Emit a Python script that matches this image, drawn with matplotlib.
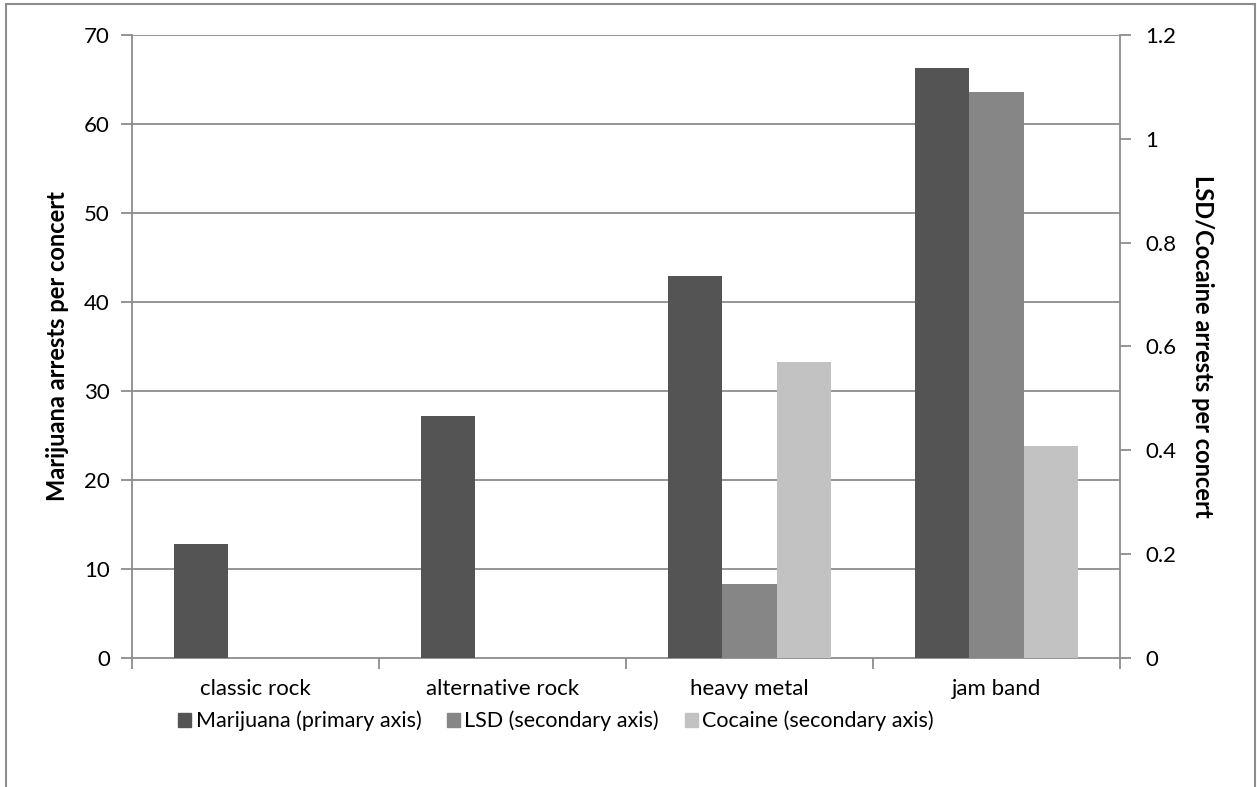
import matplotlib
matplotlib.use("Agg")
import matplotlib.pyplot as plt
from matplotlib.patches import Rectangle
import numpy as np

categories = ["classic rock", "alternative rock", "heavy metal", "jam band"]
marijuana = [12.8, 27.2, 42.9, 66.3]
lsd = [0.0, 0.0, 0.143, 1.09]
cocaine = [0.0, 0.0, 0.571, 0.409]
primary_ticks = [0, 10, 20, 30, 40, 50, 60, 70]
secondary_ticks = [0, 0.2, 0.4, 0.6, 0.8, 1, 1.2]
secondary_labels = ["0", "0.2", "0.4", "0.6", "0.8", "1", "1.2"]
series_names = ["Marijuana (primary axis)", "LSD (secondary axis)", "Cocaine (secondary axis)"]

plt.rcParams['font.family'] = ['Lato', 'DejaVu Sans']

W, H = 1257, 787
fig = plt.figure(figsize=(W / 100, H / 100), dpi=100)
fig.patch.set_facecolor("white")

# chart area border
border = Rectangle((6 / W, -0.01), (1255 - 6) / W, (H - 4) / H + 0.01, transform=fig.transFigure,
                   fill=False, edgecolor="#8c8c8c", linewidth=1.5)
fig.patches.append(border)

left, right, top, bottom = 132, 1120, 35, 658
ax = fig.add_axes([left / W, (H - bottom) / H, (right - left) / W, (bottom - top) / H])
ax2 = ax.twinx()

c_mar, c_lsd, c_coc = "#545454", "#868686", "#c2c2c2"
grid_c = "#8c8c8c"
x = np.arange(len(categories))
bw = 0.22

ax.bar(x - bw, marijuana, width=bw, color=c_mar, zorder=3)
ax2.bar(x, lsd, width=bw, color=c_lsd, zorder=3)
ax2.bar(x + bw, cocaine, width=bw, color=c_coc, zorder=3)

ax.set_xlim(-0.5, len(categories) - 0.5)
ax.set_ylim(0, 70)
ax2.set_ylim(0, 1.2)
ax.set_yticks(primary_ticks)
ax2.set_yticks(secondary_ticks)
ax2.set_yticklabels(secondary_labels)

for y in primary_ticks[1:]:
    ax.axhline(y, color=grid_c, linewidth=1.3, zorder=1)

for a in (ax, ax2):
    for s in a.spines.values():
        s.set_visible(False)
    a.patch.set_visible(False)

ax.spines['left'].set_visible(True)
ax.spines['left'].set_color(grid_c)
ax.spines['left'].set_linewidth(1.3)
ax.spines['bottom'].set_visible(True)
ax.spines['bottom'].set_color(grid_c)
ax.spines['bottom'].set_linewidth(1.3)
ax2.spines['right'].set_visible(True)
ax2.spines['right'].set_color(grid_c)
ax2.spines['right'].set_linewidth(1.3)
ax.set_zorder(ax2.get_zorder() - 1)

ax.tick_params(axis='y', direction='out', length=8, width=1.3, color=grid_c, labelsize=16, pad=8)
ax2.tick_params(axis='y', direction='out', length=8, width=1.3, color=grid_c, labelsize=16, pad=10)

# category boundary ticks on x axis
ax.set_xticks(np.arange(-0.5, len(categories), 1.0), minor=False)
ax.set_xticklabels([])
ax.tick_params(axis='x', direction='out', length=8, width=1.3, color=grid_c)
ax.set_xticks(x, minor=True)
ax.set_xticklabels(categories, minor=True)
ax.tick_params(axis='x', which='minor', length=0, labelsize=16, pad=15)

ax.set_ylabel("Marijuana arrests per concert", fontsize=17, fontweight='bold', labelpad=11)
ax2.set_ylabel("LSD/Cocaine arrests per concert", fontsize=17, fontweight='bold', rotation=270,
               labelpad=27)

handles = [Rectangle((0, 0), 1, 1, color=c) for c in (c_mar, c_lsd, c_coc)]
fig.legend(handles, series_names, loc='center', bbox_to_anchor=(556 / W, 1 - 721 / H), ncol=3,
           frameon=False, fontsize=15.5, handlelength=0.6, handleheight=0.6, handletextpad=0.2,
           columnspacing=1.2)

fig.savefig("out.png", dpi=100)
